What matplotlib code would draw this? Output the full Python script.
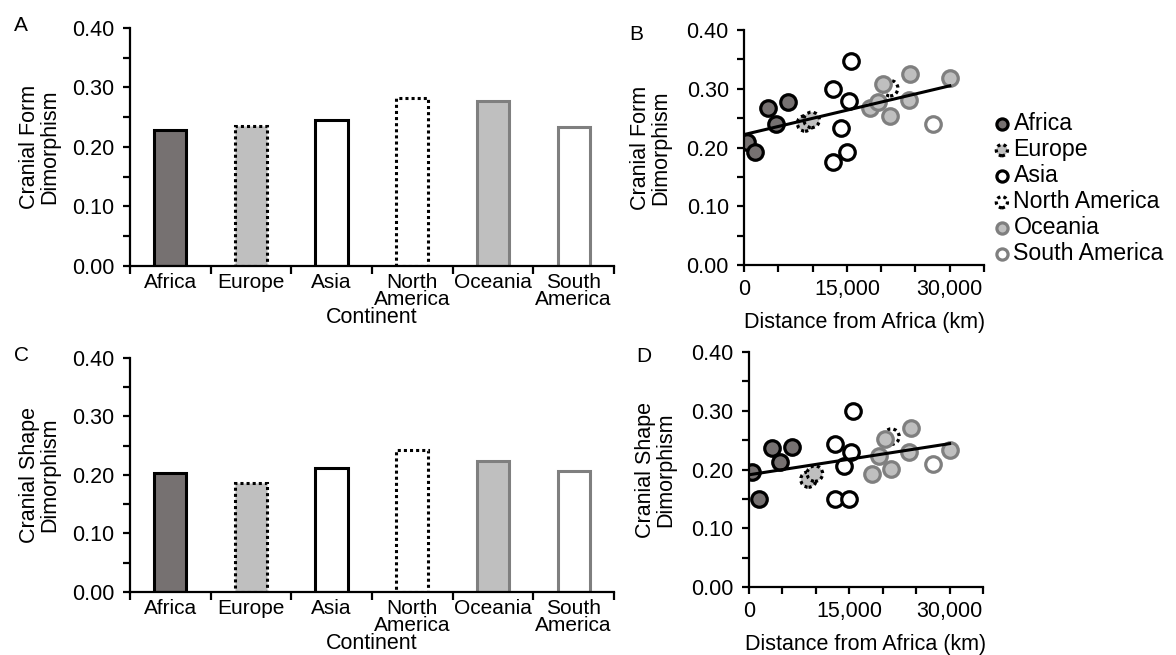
import matplotlib
matplotlib.use("Agg")
import matplotlib.pyplot as plt
from matplotlib.ticker import MultipleLocator, FixedLocator, FuncFormatter

plt.rcParams['font.family'] = ['Liberation Sans', 'DejaVu Sans']
plt.rcParams['font.size'] = 15.5

# bar panels (A, C)
continents = ['Africa', 'Europe', 'Asia', 'North\nAmerica', 'Oceania', 'South\nAmerica']
form_means = [0.229, 0.236, 0.245, 0.282, 0.278, 0.234]
shape_means = [0.203, 0.186, 0.212, 0.242, 0.224, 0.207]

# scatter panels (B, D): distance from Africa (km) and dimorphism per population
groups = ['Africa', 'Europe', 'Asia', 'North America', 'Oceania', 'South America']
dist = {
    'Africa': [400, 1550, 3500, 4700, 6400],
    'Europe': [8900, 9850],
    'Asia': [12900, 12900, 14150, 15000, 15250, 15550],
    'North America': [21300],
    'Oceania': [18350, 19500, 20300, 21250, 24000, 24250, 30000],
    'South America': [27570],
}
form_pts = {
    'Africa': [0.210, 0.192, 0.267, 0.240, 0.278],
    'Europe': [0.241, 0.247],
    'Asia': [0.299, 0.176, 0.233, 0.192, 0.280, 0.348],
    'North America': [0.301],
    'Oceania': [0.267, 0.278, 0.308, 0.254, 0.281, 0.325, 0.318],
    'South America': [0.240],
}
shape_pts = {
    'Africa': [0.196, 0.150, 0.237, 0.212, 0.239],
    'Europe': [0.183, 0.193],
    'Asia': [0.244, 0.150, 0.206, 0.150, 0.230, 0.299],
    'North America': [0.256],
    'Oceania': [0.193, 0.223, 0.252, 0.201, 0.230, 0.270, 0.233],
    'South America': [0.210],
}
trend_x = [0, 30000]
form_trend = [0.222, 0.305]
shape_trend = [0.191, 0.244]

DARK = '#767171'
LIGHT = '#bfbfbf'
GRAY = '#7f7f7f'
dots = (0, (1, 1))
# face, edge, linestyle for each continent
styles = [
    (DARK, 'black', '-'),
    (LIGHT, 'black', dots),
    ('white', 'black', '-'),
    ('white', 'black', dots),
    (LIGHT, GRAY, '-'),
    ('white', GRAY, '-'),
]

fig = plt.figure(figsize=(11.76, 6.55), dpi=100)


def style_axes(ax):
    for s in ['top', 'right']:
        ax.spines[s].set_visible(False)
    for s in ['left', 'bottom']:
        ax.spines[s].set_linewidth(1.6)
    ax.set_ylim(0, 0.4)
    ax.yaxis.set_major_locator(MultipleLocator(0.1))
    ax.yaxis.set_minor_locator(MultipleLocator(0.05))
    ax.yaxis.set_major_formatter(FuncFormatter(lambda v, p: f'{v:.2f}'))
    ax.tick_params(axis='y', which='both', direction='out', length=5, width=1.6, labelsize=15.5, pad=6)


def bar_panel(rect, values, ylabel, letter):
    ax = fig.add_axes(rect)
    style_axes(ax)
    for i, v in enumerate(values):
        fc, ec, ls = styles[i]
        ax.bar(i, v, width=0.4, color=fc, edgecolor=ec, linewidth=2.2, linestyle=ls, zorder=2)
    ax.set_xlim(-0.5, 5.5)
    ax.xaxis.set_major_locator(FixedLocator([k - 0.5 for k in range(7)]))
    ax.xaxis.set_minor_locator(FixedLocator(range(6)))
    ax.set_xticklabels([], minor=False)
    ax.set_xticklabels(continents, minor=True, linespacing=0.85)
    ax.tick_params(axis='x', which='major', direction='out', length=6, width=1.6)
    ax.tick_params(axis='x', which='minor', length=0, pad=5, labelsize=15)
    ax.set_xlabel('Continent', fontsize=15.5, labelpad=-1)
    ax.set_ylabel(ylabel, fontsize=15.5, labelpad=9, linespacing=0.95)
    ax.text(-0.24, 1.05, letter, transform=ax.transAxes, fontsize=15, va='top')
    return ax


def scatter_panel(rect, pts, trend, ylabel, letter, legend=False):
    ax = fig.add_axes(rect)
    style_axes(ax)
    handles = []
    for i, g in enumerate(groups):
        fc, ec, ls = styles[i]
        h = ax.scatter(dist[g], pts[g], s=125, facecolors=fc, edgecolors=ec,
                       linewidths=2.3, linestyles=ls, zorder=2, label=g)
        handles.append(h)
    ax.plot(trend_x, trend, color='black', lw=2.2, zorder=3)
    ax.set_xlim(0, 35000)
    ax.xaxis.set_major_locator(MultipleLocator(5000))
    ax.xaxis.set_major_formatter(FuncFormatter(lambda v, p: f'{int(v):,}' if v % 15000 == 0 and v < 35000 else ''))
    ax.tick_params(axis='x', direction='out', length=5, width=1.6, labelsize=15.5, pad=5)
    ax.set_xlabel('Distance from Africa (km)', fontsize=15.5, labelpad=9)
    ax.set_ylabel(ylabel, fontsize=15.5, labelpad=11, linespacing=0.95)
    ax.text(-0.48, 1.02, letter, transform=ax.transAxes, fontsize=15, va='top')
    if legend:
        fig.legend(handles=handles, loc='upper left', bbox_to_anchor=(981 / 1176, 1 - 103 / 655),
                   frameon=False, handletextpad=0.0, labelspacing=0.13, markerscale=0.72,
                   handlelength=1.0, borderaxespad=0, fontsize=16.7)
    return ax


bar_panel([0.1105, 0.5939, 0.4116, 0.3634], form_means, 'Cranial Form\nDimorphism', 'A')
bar_panel([0.1105, 0.0962, 0.4116, 0.3573], shape_means, 'Cranial Shape\nDimorphism', 'C')
scatter_panel([0.6327, 0.5954, 0.2041, 0.3588], form_pts, form_trend, 'Cranial Form\nDimorphism', 'B', legend=True)
scatter_panel([0.6369, 0.1038, 0.1990, 0.3588], shape_pts, shape_trend, 'Cranial Shape\nDimorphism', 'D')

plt.savefig('out.png', dpi=100)
